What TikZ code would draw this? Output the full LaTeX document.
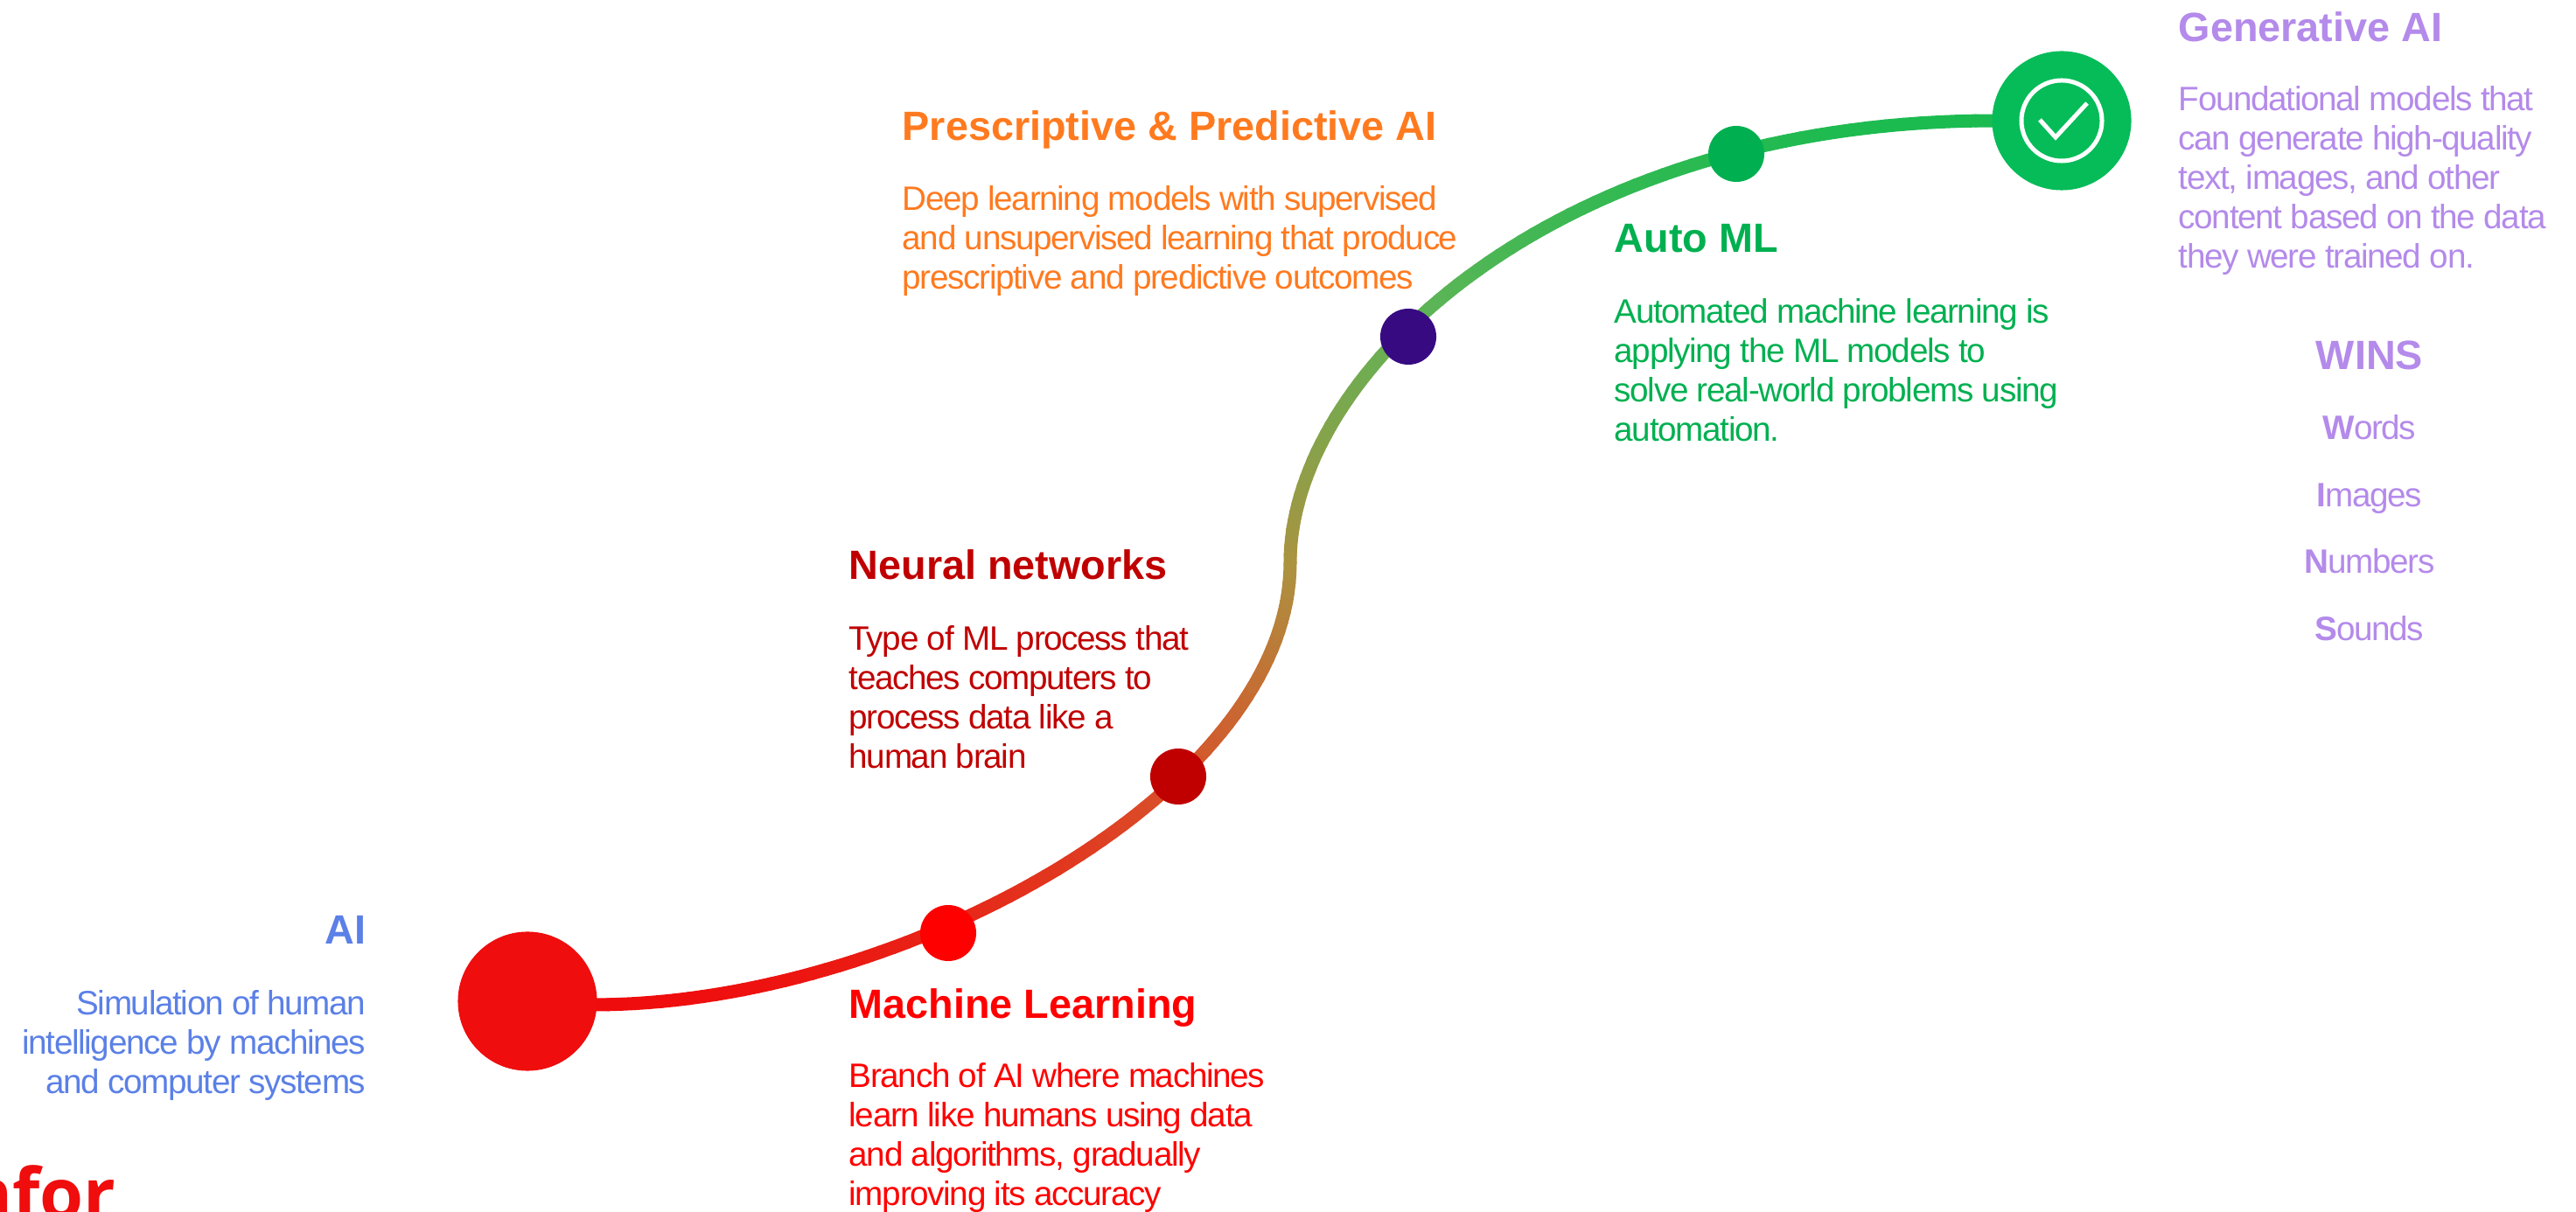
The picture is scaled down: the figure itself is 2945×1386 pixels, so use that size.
\documentclass[tikz,border=0pt]{standalone}
\usepackage{fontspec}
\setmainfont{Liberation Sans}
\newfontfamily\logofont{Open Sans}
\newfontfamily\bodyfont[LetterSpace=-3.5]{Liberation Sans}
\definecolor{cAI}{HTML}{5B80E6}
\definecolor{cRed}{HTML}{FF0000}
\definecolor{cDark}{HTML}{C00000}
\definecolor{cOr}{HTML}{FF7A1F}
\definecolor{cGr}{HTML}{00B050}
\definecolor{cPu}{HTML}{B48AEA}
\definecolor{cNav}{HTML}{370A82}
\definecolor{cStart}{HTML}{EF0D0D}
\definecolor{cCheck}{HTML}{05BC58}
\tikzset{
  x=0.01cm,y=-0.01cm,
  ttl/.style={inner sep=0pt,font=\fontsize{13.3}{15}\selectfont\bfseries},
  bdy/.style={inner sep=0pt,font=\bodyfont\fontsize{11}{12.8}\selectfont},
  dotn/.style={circle,inner sep=0pt,minimum size=0.64cm},
  bigdot/.style={circle,inner sep=0pt,minimum size=1.59cm},
  seg/.style={line width=0.15cm,line cap=round},
}
% colour along the curve, by vertical position
\newcommand{\curvepiece}[8]{%
  \foreach \i in {1,...,70}{%
    \pgfmathsetmacro{\ta}{(\i-1)/70}%
    \pgfmathsetmacro{\tb}{\i/70}%
    \pgfmathsetmacro{\xa}{(1-\ta)^3*#1+3*(1-\ta)^2*\ta*#3+3*(1-\ta)*\ta^2*#5+\ta^3*#7}%
    \pgfmathsetmacro{\ya}{(1-\ta)^3*#2+3*(1-\ta)^2*\ta*#4+3*(1-\ta)*\ta^2*#6+\ta^3*#8}%
    \pgfmathsetmacro{\xb}{(1-\tb)^3*#1+3*(1-\tb)^2*\tb*#3+3*(1-\tb)*\tb^2*#5+\tb^3*#7}%
    \pgfmathsetmacro{\yb}{(1-\tb)^3*#2+3*(1-\tb)^2*\tb*#4+3*(1-\tb)*\tb^2*#6+\tb^3*#8}%
    \pgfmathsetmacro{\ss}{(1145-\yb)/1010}%
    \pgfmathsetmacro{\rr}{(\ss<0.25?239-(239-217)*\ss/0.25:(\ss<0.5?217-(217-172)*(\ss-0.25)/0.25:(\ss<0.8?172-(172-91)*(\ss-0.5)/0.3:91-(91-26)*(\ss-0.8)/0.2)))/255}%
    \pgfmathsetmacro{\gg}{(\ss<0.25?13+(80-13)*\ss/0.25:(\ss<0.5?80+(146-80)*(\ss-0.25)/0.25:(\ss<0.8?146+(181-146)*(\ss-0.5)/0.3:181+(187-181)*(\ss-0.8)/0.2)))/255}%
    \pgfmathsetmacro{\bbb}{(\ss<0.25?13+(42-13)*\ss/0.25:(\ss<0.5?42+(64-42)*(\ss-0.25)/0.25:(\ss<0.8?64+(86-64)*(\ss-0.5)/0.3:86+(80-86)*(\ss-0.8)/0.2)))/255}%
    \definecolor{segc}{rgb}{\rr,\gg,\bbb}%
    \draw[seg,draw=segc] (\xa,\ya) -- (\xb,\yb);%
  }%
}
\begin{document}
\begin{tikzpicture}
\useasboundingbox (0,0) rectangle (2945,1386);
\clip (0,0) rectangle (2945,1386);
\curvepiece{680}{1149}{1030}{1149}{1475}{904}{1475}{644}
\curvepiece{1475}{644}{1475}{424}{1780}{138}{2280}{138}
\node[bigdot,fill=cStart] (ai) at (603,1145) {};
\node[dotn,fill=cRed] (ml) at (1084,1067) {};
\node[dotn,fill=cDark] (nn) at (1347,888) {};
\node[dotn,fill=cNav] (pp) at (1610,385) {};
\node[dotn,fill=cGr] (am) at (1985,176) {};
\node[bigdot,fill=cCheck] (gen) at (2357,138) {};
\node[circle,draw=white,line width=0.05cm,inner sep=0pt,minimum size=0.92cm] (ring) at (gen) {};
\coordinate (c1) at (2332,137); \coordinate (c2) at (2350,157); \coordinate (c3) at (2386,118);
\draw[white,line width=0.05cm] (c1) -- (c2) -- (c3);
% AI
\node[ttl,text=cAI,anchor=north east] (t1) at (419,1047) {AI};
\node[bdy,text=cAI,anchor=north east,align=right] (b1) at (419,1132) {Simulation of human\\intelligence by machines\\and computer systems};
% ML
\node[ttl,text=cRed,anchor=north west] (t2) at (970,1130) {Machine Learning};
\node[bdy,text=cRed,anchor=north west,align=left] (b2) at (970,1215) {Branch of AI where machines\\learn like humans using data\\and algorithms, gradually\\improving its accuracy};
% NN
\node[ttl,text=cDark,anchor=north west] (t3) at (970,628) {Neural networks};
\node[bdy,text=cDark,anchor=north west,align=left] (b3) at (970,715) {Type of ML process that\\teaches computers to\\process data like a\\human brain};
% PP
\node[ttl,text=cOr,anchor=north west] (t4) at (1031,126) {Prescriptive \& Predictive AI};
\node[bdy,text=cOr,anchor=north west,align=left] (b4) at (1031,212) {Deep learning models with supervised\\and unsupervised learning that produce\\prescriptive and predictive outcomes};
% AutoML
\node[ttl,text=cGr,anchor=north west] (t5) at (1845,256) {Auto ML};
\node[bdy,text=cGr,anchor=north west,align=left] (b5) at (1845,341) {Automated machine learning is\\applying the ML models to\\solve real-world problems using\\automation.};
% GenAI
\node[ttl,text=cPu,anchor=north west] (t6) at (2490,13) {Generative AI};
\node[bdy,text=cPu,anchor=north west,align=left] (b6) at (2490,98) {Foundational models that\\can generate high-quality\\text, images, and other\\content based on the data\\they were trained on.};
\node[ttl,text=cPu] (w0) at (2709,406) {WINS};
\node[bdy,text=cPu,anchor=base] (w1) at (2709,503) {\textbf{W}ords};
\node[bdy,text=cPu,anchor=base] (w2) at (2709,580) {\textbf{I}mages};
\node[bdy,text=cPu,anchor=base] (w3) at (2709,656) {\textbf{N}umbers};
\node[bdy,text=cPu,anchor=base] (w4) at (2709,733) {\textbf{S}ounds};
% logo
\node[inner sep=0pt,anchor=base east,text=cStart,font=\logofont\fontsize{23}{23}\selectfont\bfseries] (logo) at (133,1394) {Infor};
\end{tikzpicture}
\end{document}
